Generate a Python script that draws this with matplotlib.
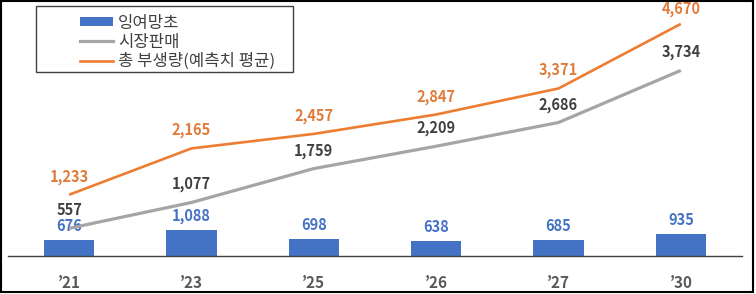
import matplotlib.pyplot as plt
from matplotlib.patches import Rectangle, Patch
from matplotlib.lines import Line2D

plt.rcParams['font.family'] = ['Noto Sans CJK KR', 'DejaVu Sans']

years = ["\u201921", "\u201923", "\u201925", "\u201926", "\u201927", "\u201930"]
surplus = [676, 1088, 698, 638, 685, 935]          # 잉여망초 (bars)
market = [557, 1077, 1759, 2209, 2686, 3734]       # 시장판매
total = [1233, 2165, 2457, 2847, 3371, 4670]       # 총 부생량(예측치 평균)

blue = "#4472C4"
gray = "#A5A5A5"
orange = "#ED7D31"

W, H = 756, 294
fig = plt.figure(figsize=(W / 100, H / 100), dpi=100)
ax = fig.add_axes([8 / W, 1 - 256 / H, 734 / W, 248 / H])
ax2 = ax.twinx()

x = list(range(len(years)))
ax.bar(x, surplus, width=0.41, color=blue, zorder=2)
ax.set_ylim(0, 10420)
ax.set_xlim(-0.5, len(years) - 0.5)

ax2.plot(x, market, color=gray, lw=2.3, solid_capstyle='butt')
ax2.plot(x, total, color=orange, lw=1.9, solid_capstyle='butt')
ax2.set_ylim(0, 4990)

for a in (ax, ax2):
    for s in ("top", "left", "right"):
        a.spines[s].set_visible(False)
    a.set_yticks([])
ax.spines["bottom"].set_color("#404040")
ax.spines["bottom"].set_linewidth(1.0)
ax2.spines["bottom"].set_visible(False)

ax.set_xticks(x)
ax.set_xticklabels(years, fontsize=11, fontweight='bold', color="#595959")
ax.tick_params(axis='x', length=0, pad=14)

for i in x:
    ax.annotate(f"{surplus[i]:,}", (i, surplus[i]), xytext=(0, 14), textcoords='offset pixels',
                ha='center', va='center', fontsize=10.5, fontweight='bold', color=blue)
    ax2.annotate(f"{market[i]:,}", (i, market[i]), xytext=(0, 18), textcoords='offset pixels',
                 ha='center', va='center', fontsize=10.5, fontweight='bold', color="#404040")
    off = 15 if i == len(x) - 1 else 18
    ax2.annotate(f"{total[i]:,}", (i, total[i]), xytext=(0, off), textcoords='offset pixels',
                 ha='center', va='center', fontsize=10.5, fontweight='bold', color="#E07B39",
                 annotation_clip=False)

# legend box drawn separately
fig.patches.append(Rectangle((36 / W, 1 - 72 / H), 257 / W, 66 / H, transform=fig.transFigure,
                             fill=False, edgecolor="#404040", lw=1.0))
handles = [Patch(facecolor=blue, edgecolor='none'),
           Line2D([], [], color=gray, lw=2.3),
           Line2D([], [], color=orange, lw=1.9)]
labels = ["잉여망초", "시장판매", "총 부생량(예측치 평균)"]
leg = fig.legend(handles, labels, loc='upper left', bbox_to_anchor=(68 / W, 1 - 3 / H),
                 frameon=False, fontsize=12, handlelength=2.0, handleheight=0.45,
                 handletextpad=0.3, labelspacing=0.12, borderpad=0.2)
for t in leg.get_texts():
    t.set_color("#404040")

# outer border
fig.patches.append(Rectangle((1 / W, 2 / H), 752 / W, 291 / H, transform=fig.transFigure,
                             fill=False, edgecolor="black", lw=1.5))

fig.savefig("out.png", dpi=100)
